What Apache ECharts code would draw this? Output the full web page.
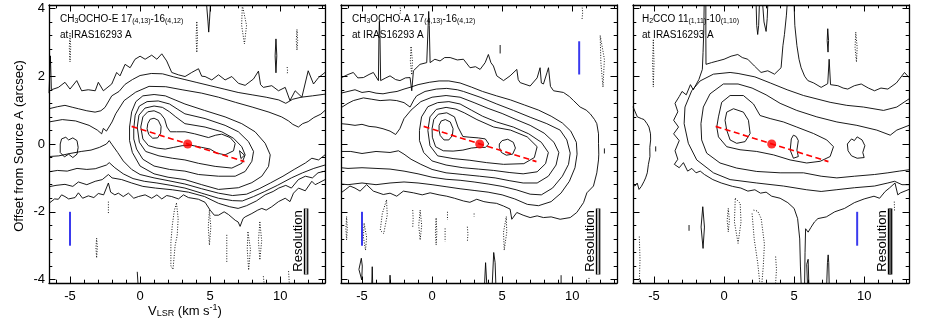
<!DOCTYPE html>
<html><head><meta charset="utf-8">
<script src="https://cdn.jsdelivr.net/npm/echarts@6/dist/echarts.min.js"></script>
<style>html,body{margin:0;padding:0;background:#fff}#c{width:926px;height:322px}</style>
</head><body><div id="c"></div>
<script>
// ---------- axes / ticks ----------
const xRange = [-6.5, 13.2];
const yRange = [-4.1, 4.1];
const xMajor = [-5, 0, 5, 10];
const xMinor = [-6,-4,-3,-2,-1,1,2,3,4,6,7,8,9,11,12,13];
const yMajor = [-4, -2, 0, 2, 4];
const yMinor = [-3.6,-3.2,-2.8,-2.4,-1.6,-1.2,-0.8,-0.4,0.4,0.8,1.2,1.6,2.4,2.8,3.2,3.6];

// ---------- common marks ----------
const redLine = [[-0.6, 0.52], [7.45, -0.52]];
const sysPoint = [[3.4, 0]];
const resBar = [[11.85, -1.9], [11.85, -3.85]];

// ---------- panel 1 : CH3OCHO-E ----------
const p1_L1 = [[-6.5,1.5],[-6.43,1.55],[-6.4,2.6],[-6.33,1.6],[-5.83,1.67],[-5.36,1.82],[-5.0,1.62],[-4.52,1.87],[-4.17,1.57],[-3.7,1.6],[-3.2,1.57],[-2.98,1.82],[-2.62,1.57],[-2.02,1.77],[-1.67,2.11],[-1.43,2.01],[-1.07,2.35],[-0.71,2.25],[-0.36,2.5],[0.0,2.59],[0.36,2.5],[0.83,2.62],[1.2,2.5],[1.55,2.66],[1.9,2.45],[2.26,2.11],[2.74,2.04],[3.21,1.99],[3.69,2.11],[4.17,2.22],[4.4,2.0],[4.64,1.99],[5.12,1.89],[5.6,2.04],[6.07,1.89],[6.55,1.99],[7.02,1.79],[7.5,1.73],[8.1,1.92],[8.45,2.15],[8.6,1.75],[8.8,1.67],[9.4,1.72],[9.88,1.57],[10.36,1.67],[10.7,1.28],[11.07,1.57],[11.55,1.38],[12.0,2.16],[12.38,1.77],[12.74,1.96],[13.2,2.11]];
const p1_L2 = [[-6.5,1.04],[-5.9,1.1],[-5.36,1.14],[-4.8,1.08],[-4.4,1.04],[-3.8,0.98],[-3.21,0.94],[-2.8,0.98],[-2.5,1.08],[-2.02,1.42],[-1.5,1.55],[-1.07,1.76],[-0.55,1.9],[0.0,2.02],[0.8,2.08],[1.6,2.07],[2.4,1.98],[3.2,1.9],[4.0,1.82],[5.0,1.72],[6.0,1.62],[7.0,1.52],[8.0,1.45],[9.0,1.38],[9.9,1.3],[10.4,1.2],[10.9,1.32],[11.5,1.38],[12.3,1.42],[13.2,1.47]];
const p1_L3 = [[-6.5,0.65],[-5.55,0.72],[-4.6,0.68],[-3.64,0.55],[-3.05,0.41],[-2.74,0.3],[-2.62,0.46],[-2.4,0.38],[-2.0,0.65],[-1.74,0.89],[-1.14,1.28],[-0.31,1.53],[0.64,1.7],[1.83,1.69],[3.0,1.6],[4.4,1.5],[5.6,1.38],[6.8,1.23],[8.0,1.09],[9.2,0.94],[10.1,0.8],[10.6,0.68],[10.9,0.58],[11.3,0.5],[11.6,0.6],[12.0,0.66],[12.4,0.78],[12.9,0.88],[13.2,0.99]];
const p1_island = [[-5.7,0.0],[-5.6,0.15],[-5.3,0.2],[-5.1,0.12],[-4.8,0.18],[-4.5,0.1],[-4.42,-0.1],[-4.5,-0.3],[-4.8,-0.4],[-5.1,-0.3],[-5.4,-0.38],[-5.7,-0.25],[-5.7,0.0]];
const p1_c4 = [[-0.75,0.5],[-0.6,0.95],[-0.3,1.25],[0.2,1.42],[1.0,1.46],[1.8,1.42],[2.5,1.3],[3.2,1.18],[4.6,0.99],[6.07,0.8],[7.26,0.6],[8.21,0.36],[8.93,0.02],[9.29,-0.32],[9.17,-0.66],[8.69,-0.95],[7.98,-1.14],[7.02,-1.29],[5.6,-1.34],[4.4,-1.2],[3.2,-1.05],[2.0,-0.98],[1.0,-0.88],[0.0,-0.65],[-0.55,-0.25],[-0.75,0.1],[-0.75,0.5]];
const p1_c5 = [[-0.45,0.45],[-0.35,0.85],[-0.05,1.12],[0.5,1.25],[1.3,1.27],[2.1,1.18],[2.7,1.02],[3.2,0.89],[4.64,0.75],[6.07,0.55],[7.02,0.36],[7.74,0.07],[8.1,-0.22],[7.98,-0.51],[7.5,-0.81],[6.79,-0.95],[5.6,-0.95],[4.17,-0.9],[3.2,-0.8],[2.1,-0.75],[1.0,-0.65],[0.2,-0.45],[-0.25,-0.15],[-0.45,0.15],[-0.45,0.45]];
const p1_c6 = [[-0.2,0.5],[-0.08,0.85],[0.35,1.06],[1.0,1.12],[1.6,1.08],[2.1,0.95],[2.55,0.8],[3.2,0.6],[4.64,0.5],[5.83,0.36],[6.67,0.17],[7.26,-0.08],[7.5,-0.32],[7.26,-0.57],[6.55,-0.71],[5.36,-0.66],[4.17,-0.57],[3.2,-0.47],[2.3,-0.42],[1.35,-0.35],[0.4,-0.22],[-0.05,0.05],[-0.2,0.5]];
const p1_c7 = [[0.05,0.5],[0.2,0.8],[0.55,0.95],[1.0,0.98],[1.45,0.9],[1.75,0.74],[1.92,0.5],[2.15,0.36],[2.6,0.36],[3.21,0.36],[3.9,0.3],[4.88,0.19],[5.4,0.26],[5.83,0.29],[6.43,0.19],[6.79,0.02],[6.67,-0.2],[6.07,-0.32],[5.48,-0.27],[5.0,-0.15],[4.4,-0.1],[3.69,-0.04],[3.0,-0.05],[2.4,-0.1],[1.8,-0.15],[1.2,-0.12],[0.6,-0.05],[0.2,0.15],[0.05,0.5]];
const p1_peak = [[0.55,0.6],[0.72,0.73],[1.0,0.76],[1.3,0.7],[1.5,0.52],[1.47,0.32],[1.25,0.18],[0.9,0.17],[0.62,0.28],[0.5,0.45],[0.55,0.6]];
const p1_tri = [[7.1,-0.2],[7.45,-0.33],[7.2,-0.43],[7.1,-0.2]];
const p1_B3 = [[-6.5,-0.37],[-5.8,-0.35],[-5.0,-0.28],[-4.2,-0.22],[-3.5,-0.18],[-2.9,-0.1],[-2.4,0.0],[-2.2,0.1],[-2.0,-0.02],[-1.6,-0.25],[-1.2,-0.5],[-0.6,-0.75],[0.0,-0.9],[1.0,-1.0],[2.0,-1.08],[3.2,-1.18],[4.4,-1.32],[5.6,-1.45],[6.6,-1.52],[7.6,-1.48],[8.5,-1.32],[9.3,-1.15],[10.2,-0.95],[11.0,-0.75],[11.8,-0.56],[12.26,-0.42],[12.74,-0.47],[13.2,-0.32]];
const p1_B2 = [[-6.5,-0.82],[-5.9,-0.78],[-5.2,-0.8],[-4.5,-0.72],[-3.8,-0.75],[-3.2,-0.73],[-2.4,-0.62],[-2.2,-0.55],[-1.8,-0.7],[-1.2,-0.88],[-0.5,-1.02],[0.3,-1.1],[1.2,-1.15],[2.2,-1.22],[3.2,-1.3],[4.4,-1.45],[5.6,-1.6],[6.6,-1.67],[7.3,-1.68],[8.1,-1.55],[8.9,-1.4],[9.8,-1.22],[10.8,-1.0],[11.6,-0.85],[12.4,-0.72],[13.2,-0.62]];
const p1_B1 = [[-6.5,-1.26],[-6.0,-1.22],[-5.36,-1.19],[-4.8,-1.25],[-4.4,-1.12],[-3.8,-1.2],[-3.2,-1.1],[-2.7,-1.05],[-2.26,-0.9],[-2.0,-1.0],[-1.31,-1.05],[-0.6,-1.15],[0.2,-1.25],[1.1,-1.3],[2.3,-1.35],[3.45,-1.42],[4.6,-1.55],[5.6,-1.75],[6.4,-1.85],[7.0,-1.9],[7.6,-1.82],[8.3,-1.68],[8.93,-1.5],[9.5,-1.4],[9.9,-1.3],[10.4,-1.22],[10.8,-1.3],[11.3,-1.05],[11.8,-0.95],[12.3,-1.0],[12.7,-0.85],[13.2,-0.8]];
const p1_B0 = [[-6.5,-1.75],[-6.43,-1.73],[-6.1,-1.62],[-5.83,-1.63],[-5.6,-1.5],[-5.36,-1.55],[-5.1,-1.62],[-4.64,-1.58],[-4.4,-1.44],[-4.1,-1.6],[-3.69,-1.53],[-3.3,-1.58],[-2.98,-1.46],[-2.6,-1.5],[-2.26,-1.15],[-2.1,-1.42],[-1.8,-1.5],[-1.55,-1.45],[-1.2,-1.55],[-0.83,-1.45],[-0.45,-1.6],[-0.12,-1.55],[0.36,-1.5],[0.83,-1.6],[1.2,-1.5],[1.55,-1.62],[1.9,-1.52],[2.26,-1.55],[2.74,-1.62],[3.1,-1.5],[3.45,-1.58],[4.17,-1.63],[4.64,-1.72],[5.0,-1.95],[5.3,-2.1],[5.6,-2.1],[6.0,-2.0],[6.31,-2.08],[6.79,-2.25],[7.0,-2.3],[7.14,-2.43],[7.35,-2.2],[7.5,-2.15],[7.98,-2.05],[8.4,-1.95],[8.69,-1.9],[9.0,-1.95],[9.4,-1.85],[9.88,-1.7],[10.36,-1.6],[10.7,-1.7],[10.95,-1.45],[11.31,-1.3],[11.79,-1.38],[12.26,-1.1],[12.5,-1.2],[12.74,-1.15],[13.2,-1.05]];
const p1_solidBits = [
  [[4.75,4.1],[4.85,3.6],[4.9,3.3],[4.95,3.6],[5.02,4.1]],
  [[9.7,3.1],[9.76,2.6],[9.7,2.1],[9.64,2.6],[9.7,3.1]],
  [[-0.2,-3.77],[-0.15,-4.1]]
];
const p1_negs = [
  [[-5.0,3.27],[-4.95,2.85],[-5.0,2.42],[-5.05,2.85],[-5.0,3.27]],
  [[4.05,3.6],[4.1,3.15],[4.05,2.7],[4.0,3.15],[4.05,3.6]],
  [[7.3,4.1],[7.6,3.5],[7.45,2.95],[7.25,3.5],[7.3,4.1]],
  [[11.2,3.38],[11.25,3.05],[11.2,2.77],[11.15,3.05],[11.2,3.38]],
  [[10.5,2.27],[10.53,2.15],[10.5,2.06]],
  [[-2.26,-1.7],[-2.26,-2.04]],
  [[-3.1,-2.78],[-3.05,-3.05],[-3.1,-3.36],[-3.15,-3.05],[-3.1,-2.78]],
  [[2.6,-1.75],[2.72,-2.2],[2.65,-2.7],[2.5,-3.0],[2.35,-3.7],[2.2,-3.6],[2.2,-2.9],[2.3,-2.4],[2.45,-1.95],[2.6,-1.75]],
  [[4.95,-1.95],[5.05,-2.45],[4.95,-2.98],[4.87,-2.45],[4.95,-1.95]],
  [[6.19,-2.68],[6.19,-3.5]],
  [[7.7,-2.6],[7.88,-3.1],[7.75,-3.72],[7.65,-3.1],[7.7,-2.6]],
  [[8.55,-2.3],[8.68,-2.85],[8.55,-3.42],[8.45,-2.85],[8.55,-2.3]],
  [[8.8,-3.9],[8.85,-4.1]],
  [[10.6,-3.75],[10.65,-4.1]]
];
const p1_blue = [[[-5, -2], [-5, -3]]];

// ---------- panel 2 : CH3OCHO-A ----------
const p2_L1 = [[-6.5,1.95],[-6.45,1.92],[-6.0,2.05],[-5.62,2.11],[-5.3,1.95],[-4.9,1.96],[-4.5,2.05],[-4.19,2.11],[-3.83,1.87],[-3.79,3.2],[-3.76,3.62],[-3.72,3.2],[-3.67,1.87],[-3.3,1.95],[-3.0,2.01],[-2.6,1.9],[-2.29,1.87],[-1.9,1.95],[-1.57,1.96],[-1.45,1.57],[-1.33,2.16],[-0.86,2.35],[-0.38,2.4],[-0.28,3.5],[-0.24,3.91],[-0.2,3.5],[-0.14,2.4],[0.2,2.5],[0.57,2.45],[0.9,2.55],[1.29,2.55],[1.8,2.48],[2.24,2.5],[2.71,2.25],[3.1,2.28],[3.43,2.2],[3.79,2.4],[4.02,2.64],[4.2,2.4],[4.38,2.3],[4.62,2.01],[5.1,1.87],[5.57,2.01],[6.05,2.2],[6.15,1.9],[6.29,1.81],[7.0,1.71],[7.5,1.95],[7.71,2.25],[7.8,1.8],[7.95,1.77],[8.2,2.1],[8.31,2.25],[8.45,1.7],[8.67,1.57],[9.38,1.52],[9.8,1.4],[10.1,1.28],[10.57,1.09],[11.0,1.0],[11.29,0.89],[11.6,0.72],[11.76,0.6],[11.88,0.3],[11.88,0.02],[11.9,-0.3],[11.88,-0.47],[11.76,-0.85],[11.52,-1.24],[11.05,-1.44],[10.81,-1.73],[10.33,-2.02],[9.86,-2.17],[9.14,-2.22],[8.5,-2.15],[7.95,-2.17],[7.5,-2.12],[7.0,-2.17],[6.5,-2.1],[6.05,-2.02],[5.69,-2.22],[5.57,-1.92],[5.1,-1.83],[4.6,-1.75],[4.14,-1.73],[3.7,-1.7],[3.19,-1.63],[2.7,-1.72],[2.24,-1.68],[1.6,-1.6],[1.05,-1.54],[0.5,-1.5],[-0.14,-1.44],[-0.7,-1.5],[-1.33,-1.44],[-2.05,-1.39],[-2.52,-1.54],[-3.0,-1.45],[-3.48,-1.49],[-4.19,-1.39],[-4.67,-1.2],[-5.14,-1.39],[-5.5,-1.3],[-5.86,-1.24],[-6.2,-1.35],[-6.5,-1.44]];
const p2_L2 = [[-6.5,1.5],[-6.0,1.55],[-5.5,1.6],[-5.0,1.52],[-4.5,1.55],[-4.0,1.5],[-3.5,1.48],[-3.0,1.52],[-2.5,1.55],[-2.0,1.62],[-1.5,1.68],[-1.0,1.75],[-0.2,1.82],[0.5,1.86],[1.2,1.86],[2.0,1.8],[2.8,1.68],[3.6,1.55],[4.6,1.42],[5.6,1.3],[6.6,1.15],[7.6,1.0],[8.5,0.82],[9.3,0.62],[9.9,0.38],[10.3,0.05],[10.35,-0.3],[10.2,-0.7],[9.8,-1.1],[9.2,-1.45],[8.5,-1.7],[7.6,-1.82],[6.8,-1.78],[5.9,-1.62],[5.0,-1.5],[4.0,-1.42],[3.0,-1.37],[2.0,-1.32],[1.0,-1.26],[0.0,-1.2],[-1.0,-1.15],[-2.0,-1.12],[-3.0,-1.15],[-4.0,-1.2],[-5.0,-1.15],[-6.0,-1.2],[-6.5,-1.18]];
const p2_L3 = [[-6.5,1.07],[-6.0,1.2],[-5.62,1.28],[-4.9,1.36],[-4.3,1.32],[-3.71,1.28],[-3.0,1.3],[-2.52,1.28],[-2.0,1.22],[-1.57,1.09],[-1.3,1.3],[-1.1,1.42],[-0.5,1.55],[0.3,1.62],[1.05,1.64],[1.8,1.6],[2.24,1.55],[3.43,1.38],[4.62,1.18],[5.81,0.99],[7.0,0.79],[8.19,0.6],[9.14,0.41],[9.62,0.12],[9.86,-0.27],[9.74,-0.6],[9.3,-0.95],[8.6,-1.3],[7.8,-1.5],[7.0,-1.48],[6.0,-1.35],[5.0,-1.25],[4.0,-1.18],[3.0,-1.12],[2.0,-1.07],[1.0,-1.04],[0.0,-0.98],[-1.0,-0.88],[-2.0,-0.8],[-3.0,-0.74],[-4.0,-0.72],[-5.0,-0.7],[-6.0,-0.72],[-6.5,-0.7]];
const p2_L4 = [[-6.5,0.6],[-6.0,0.58],[-5.5,0.55],[-5.0,0.58],[-4.5,0.52],[-4.0,0.5],[-3.5,0.45],[-3.0,0.38],[-2.6,0.28],[-2.3,0.45],[-2.0,0.75],[-1.5,1.0],[-0.8,1.25],[0.0,1.38],[1.0,1.43],[2.0,1.38],[3.0,1.22],[4.0,1.05],[5.0,0.9],[6.0,0.72],[7.0,0.55],[8.0,0.32],[8.7,0.05],[9.05,-0.25],[8.85,-0.62],[8.3,-0.95],[7.5,-1.15],[6.5,-1.15],[5.5,-1.08],[4.5,-1.0],[3.4,-0.95],[2.2,-0.9],[1.0,-0.85],[0.0,-0.75],[-0.8,-0.6],[-1.5,-0.45],[-2.0,-0.3],[-2.4,-0.2],[-3.0,-0.25],[-4.0,-0.22],[-5.0,-0.28],[-5.8,-0.22],[-6.5,-0.22]];
const p2_c5 = [[-0.9,0.4],[-0.75,0.8],[-0.3,1.1],[0.4,1.22],[1.2,1.25],[2.0,1.18],[2.8,1.0],[3.6,0.82],[4.6,0.65],[5.8,0.5],[6.9,0.3],[7.8,0.05],[8.3,-0.25],[8.1,-0.58],[7.5,-0.82],[6.5,-0.88],[5.5,-0.84],[4.4,-0.78],[3.3,-0.74],[2.2,-0.7],[1.0,-0.62],[0.0,-0.5],[-0.6,-0.25],[-0.9,0.1],[-0.9,0.4]];
const p2_c6 = [[-0.3,0.4],[-0.15,0.8],[0.3,1.02],[1.0,1.08],[1.7,1.03],[2.3,0.92],[3.2,0.72],[4.4,0.5],[5.6,0.41],[6.79,0.21],[7.5,-0.08],[7.3,-0.4],[6.55,-0.58],[5.1,-0.6],[3.9,-0.55],[2.7,-0.48],[1.5,-0.43],[0.4,-0.35],[-0.15,-0.05],[-0.3,0.4]];
const p2_c7 = [[0.0,0.45],[0.12,0.72],[0.45,0.88],[1.05,0.92],[1.6,0.8],[1.85,0.5],[2.2,0.22],[2.7,0.2],[3.3,0.18],[3.8,0.15],[4.05,0.0],[3.8,-0.1],[3.3,-0.1],[2.8,-0.12],[2.2,-0.18],[1.5,-0.21],[0.8,-0.2],[0.25,-0.08],[0.02,0.2],[0.0,0.45]];
const p2_peak = [[0.5,0.55],[0.65,0.68],[0.95,0.72],[1.3,0.65],[1.5,0.45],[1.45,0.25],[1.2,0.12],[0.85,0.12],[0.58,0.25],[0.5,0.4],[0.5,0.55]];
const p2_peak2 = [[4.8,0.0],[5.0,0.1],[5.4,0.14],[5.8,0.05],[5.95,-0.12],[5.75,-0.3],[5.3,-0.33],[4.95,-0.25],[4.8,-0.1],[4.8,0.0]];
const p2_solidBits = [
  [[4.86,2.92],[4.86,2.67]],
  [[12.3,-0.13],[12.3,-0.28]],
  [[-5.05,-3.37],[-4.98,-3.6],[-5.02,-4.01],[-5.22,-3.7],[-5.05,-3.37]],
  [[-4.3,-4.1],[-4.27,-3.62],[-4.24,-4.1]],
  [[-3.02,-4.1],[-3.0,-3.87],[-2.97,-4.1]],
  [[3.75,-4.1],[3.82,-3.5],[3.9,-4.1]],
  [[4.3,-4.1],[4.4,-3.2],[4.5,-3.5],[4.55,-4.1]],
  [[9.21,-4.1],[9.21,-3.87]]
];
const p2_negs = [
  [[-2.3,4.1],[-2.25,3.95],[-2.3,3.8]],
  [[-1.5,2.86],[-1.4,2.45],[-1.45,2.04],[-1.55,2.45],[-1.5,2.86]],
  [[10.7,4.1],[10.75,3.88],[10.7,3.66]],
  [[12.0,3.2],[12.3,2.5],[12.2,1.68],[12.05,2.4],[12.0,3.2]],
  [[-6.1,-2.14],[-6.05,-2.5],[-6.1,-2.83],[-6.15,-2.5],[-6.1,-2.14]],
  [[-4.85,-2.34],[-4.67,-2.75],[-4.75,-3.13],[-4.9,-2.75],[-4.85,-2.34]],
  [[-3.25,-1.65],[-3.2,-2.1],[-3.45,-2.64],[-3.7,-2.55],[-3.55,-2.05],[-3.25,-1.65]],
  [[-1.38,-1.95],[-1.35,-2.2],[-1.38,-2.45]],
  [[-0.85,-1.95],[-0.74,-2.4],[-0.85,-2.83],[-0.95,-2.4],[-0.85,-1.95]],
  [[0.29,-2.19],[0.34,-2.6],[0.29,-2.98],[0.24,-2.6],[0.29,-2.19]],
  [[0.93,-2.49],[0.93,-2.88]],
  [[1.1,-2.0],[1.1,-2.24]],
  [[2.52,-2.44],[2.56,-2.66],[2.52,-2.88]],
  [[3.0,-2.05],[3.0,-2.14]],
  [[5.3,-2.14],[5.33,-2.6],[5.15,-3.13],[5.1,-2.6],[5.3,-2.14]],
  [[11.2,-3.95],[11.2,-4.1]]
];
const p2_blue = [[[-5, -2], [-5, -3]], [[10.5, 2.05], [10.5, 3.03]]];

// ---------- panel 3 : H2CCO ----------
const p3_L1a = [[-1.42,4.1],[-1.45,3.3],[-1.5,2.7],[-1.55,2.2],[-1.8,1.9],[-2.2,1.6],[-2.4,1.75],[-2.7,1.45],[-3.0,1.55],[-3.2,1.4],[-3.5,1.2],[-3.3,0.95],[-3.6,0.7],[-3.25,0.5],[-3.6,0.3],[-3.2,0.1],[-3.5,-0.2],[-3.3,-0.45],[-3.55,-0.6],[-3.2,-0.7],[-2.9,-0.55],[-2.6,-0.8],[-2.3,-0.72],[-2.0,-0.85],[-1.7,-0.8],[-1.4,-0.9],[-0.8,-1.05],[-0.2,-1.15],[0.6,-1.25],[1.2,-1.3],[1.7,-1.39],[2.2,-1.35],[2.6,-1.45],[3.0,-1.42],[3.4,-1.54],[4.0,-1.6],[4.55,-1.73],[5.0,-1.9],[5.25,-2.2],[5.4,-2.8],[5.45,-3.6],[5.5,-4.1]];
const p3_L1r = [[5.75,-4.1],[5.78,-3.2],[5.82,-2.5],[6.0,-2.6],[6.2,-2.46],[6.45,-2.3],[6.7,-2.2],[7.3,-2.15],[7.9,-2.0],[8.6,-1.9],[9.3,-1.73],[10.0,-1.62],[10.7,-1.54],[11.1,-1.6],[11.5,-1.4],[11.8,-1.3],[12.2,-1.15],[12.4,-1.5],[12.6,-1.44],[13.2,-1.34]];
const p3_L1b = [[-1.3,4.1],[-1.3,3.2],[-1.29,2.35],[-0.9,2.4],[-0.45,2.45],[0.0,2.5],[0.5,2.59],[0.98,2.64],[1.3,2.55],[1.69,2.5],[2.17,2.3],[2.64,2.11],[3.12,2.16],[3.6,2.06],[4.07,2.25],[4.2,2.9],[4.31,3.23],[4.45,3.8],[4.5,4.1]];
const p3_L1c = [[5.0,4.1],[5.05,3.5],[5.2,2.9],[5.35,2.5],[5.5,2.25],[5.75,2.0],[5.98,1.87],[6.4,1.8],[6.93,1.67],[7.4,1.78],[7.5,2.5],[7.6,1.75],[8.12,1.72],[8.5,1.65],[8.83,1.62],[9.3,1.72],[9.79,1.77],[10.3,1.65],[10.74,1.57],[11.2,1.65],[11.69,1.62],[12.3,1.8],[12.88,2.11],[13.2,1.96]];
const p3_L2 = [[13.2,1.33],[12.33,1.09],[11.38,0.99],[9.95,1.09],[8.76,1.14],[7.57,1.23],[5.67,1.43],[4.5,1.6],[3.3,1.8],[2.2,1.98],[1.0,2.08],[0.43,2.11],[-0.76,2.06],[-1.71,1.86],[-2.31,1.57],[-2.79,1.09],[-2.85,0.6],[-2.55,0.02],[-1.95,-0.47],[-0.76,-0.85],[0.43,-1.05],[2.33,-1.15],[4.24,-1.24],[5.9,-1.35],[6.93,-1.4],[8.0,-1.35],[9.31,-1.29],[10.74,-1.24],[11.69,-1.15],[12.17,-1.1],[12.7,-1.2],[13.2,-1.2]];
const p3_L3 = [[13.2,0.55],[12.33,0.41],[11.86,0.26],[10.9,0.41],[9.48,0.55],[8.05,0.65],[6.62,0.8],[5.19,0.99],[4.0,1.2],[3.0,1.45],[2.0,1.65],[1.0,1.77],[-0.05,1.77],[-1.0,1.48],[-1.48,1.09],[-1.65,0.6],[-1.6,0.12],[-1.24,-0.27],[-0.29,-0.56],[0.9,-0.71],[2.33,-0.81],[4.0,-0.85],[5.67,-0.85],[6.93,-0.95],[8.05,-1.0],[9.31,-0.95],[10.74,-0.9],[11.69,-0.85],[12.5,-0.8],[13.2,-0.76]];
const p3_c4 = [[-0.52,0.5],[-0.4,0.8],[-0.17,1.23],[0.43,1.43],[1.38,1.43],[2.1,1.18],[2.57,0.84],[3.29,0.75],[4.24,0.65],[5.19,0.5],[6.38,0.31],[7.33,0.12],[7.81,-0.08],[7.57,-0.37],[6.86,-0.51],[5.9,-0.56],[4.71,-0.47],[3.52,-0.32],[2.33,-0.22],[1.14,-0.17],[0.19,-0.08],[-0.4,0.21],[-0.52,0.5]];
const p3_peak = [[0.07,0.7],[0.19,0.94],[0.67,1.04],[1.38,0.94],[1.74,0.7],[1.86,0.31],[1.5,0.07],[0.9,0.02],[0.43,0.12],[0.19,0.41],[0.07,0.7]];
const p3_isl1 = [[4.8,0.15],[4.95,0.26],[5.15,0.22],[5.3,0.1],[5.2,-0.18],[5.3,-0.37],[4.95,-0.42],[4.72,-0.18],[4.8,0.15]];
const p3_isl2 = [[8.8,0.0],[9.1,0.15],[9.3,0.1],[9.5,0.21],[9.85,0.12],[10.05,-0.05],[9.9,-0.25],[10.0,-0.4],[9.5,-0.42],[9.1,-0.35],[8.85,-0.2],[8.8,0.0]];
const p3_left = [[-6.5,1.1],[-6.43,1.09],[-6.19,0.8],[-5.9,0.75],[-5.71,0.72],[-5.5,0.6],[-5.36,0.5],[-5.25,0.3],[-5.24,0.12],[-5.3,-0.1],[-5.29,-0.37],[-5.4,-0.6],[-5.48,-0.85],[-5.6,-1.0],[-5.71,-1.1],[-5.9,-1.25],[-6.07,-1.34],[-6.2,-1.15],[-6.36,-1.24],[-6.5,-1.2]];
const p3_solidBits = [
  [[2.29,4.1],[2.33,3.5],[2.4,3.23],[2.47,3.5],[2.52,4.1]],
  [[2.76,4.1],[2.85,3.6],[3.0,3.32],[3.08,3.7],[3.12,4.1]],
  [[7.4,3.4],[7.46,3.05],[7.42,2.71],[7.36,3.05],[7.4,3.4]],
  [[-4.88,-0.07],[-4.88,-0.22]],
  [[-1.52,-1.85],[-1.4,-2.45],[-1.5,-3.08],[-1.64,-2.45],[-1.52,-1.85]],
  [[-2.5,-2.39],[-2.5,-2.56]],
  [[7.33,-4.1],[7.38,-3.5],[7.43,-3.27],[7.47,-3.5],[7.5,-4.1]],
  [[5.95,-4.1],[5.9,-3.55],[6.0,-3.4],[6.05,-4.1]]
];
const p3_negs = [
  [[-5.05,3.07],[-5.0,2.4],[-5.05,1.68],[-5.1,2.4],[-5.05,3.07]],
  [[9.4,3.3],[9.5,2.85],[9.45,2.42],[9.35,2.85],[9.4,3.3]],
  [[-6.05,-2.73],[-6.0,-3.4],[-6.05,-4.1]],
  [[0.3,-1.9],[0.38,-2.25],[0.3,-2.59],[0.22,-2.25],[0.3,-1.9]],
  [[0.8,-1.6],[1.15,-1.75],[1.21,-2.3],[1.0,-2.93],[0.74,-2.3],[0.8,-1.6]],
  [[2.1,-1.95],[2.4,-1.98],[2.65,-2.2],[2.88,-2.95],[2.8,-3.6],[2.7,-4.1]],
  [[2.0,-2.05],[2.15,-2.8],[2.4,-3.5],[2.55,-4.1]],
  [[3.68,-3.32],[3.74,-3.7],[3.68,-4.1]],
  [[12.15,-1.7],[12.17,-2.0]]
];
const p3_blue = [[[9.5, -2], [9.5, -3]]];

// ---------- assemble ----------
const FONT = '"Liberation Sans", Arial, Helvetica, sans-serif';
const gridLefts = [49, 341, 633];
const panels = [
  { solid: [p1_L1, p1_L2, p1_L3, p1_island, p1_c4, p1_c5, p1_c6, p1_c7, p1_peak, p1_tri, p1_B3, p1_B2, p1_B1, p1_B0].concat(p1_solidBits), negs: p1_negs, blue: p1_blue, barFill: '#b0b0b0' },
  { solid: [p2_L1, p2_L2, p2_L3, p2_L4, p2_c5, p2_c6, p2_c7, p2_peak, p2_peak2].concat(p2_solidBits), negs: p2_negs, blue: p2_blue, barFill: '#b0b0b0' },
  { solid: [p3_L1a, p3_L1r, p3_L1b, p3_L1c, p3_L2, p3_L3, p3_c4, p3_peak, p3_isl1, p3_isl2, p3_left].concat(p3_solidBits), negs: p3_negs, blue: p3_blue, barFill: '#606060' }
];

const grids = [], xAxes = [], yAxes = [], series = [];
gridLefts.forEach((left, g) => {
  grids.push({ left: left, top: 5, width: 276, height: 278, containLabel: false });
  const axLine = { show: true, onZero: false, lineStyle: { color: '#000', width: 1.3 } };
  const noLine = { show: false, onZero: false };
  const tick = (vals, len) => ({ show: true, inside: true, length: len, customValues: vals, lineStyle: { color: '#000', width: 1 } });
  const baseX = { type: 'value', gridIndex: g, min: xRange[0], max: xRange[1], splitLine: { show: false } };
  const baseY = { type: 'value', gridIndex: g, min: yRange[0], max: yRange[1], splitLine: { show: false } };
  xAxes.push(Object.assign({}, baseX, { position: 'bottom', axisLine: axLine, axisTick: tick(xMajor, 6.5),
    axisLabel: { show: true, customValues: xMajor, fontSize: 13, fontFamily: FONT, color: '#000', margin: 7 } }));
  xAxes.push(Object.assign({}, baseX, { position: 'bottom', axisLine: noLine, axisTick: tick(xMinor, 3.3), axisLabel: { show: false } }));
  xAxes.push(Object.assign({}, baseX, { position: 'top', axisLine: axLine, axisTick: tick(xMajor, 6.5), axisLabel: { show: false } }));
  xAxes.push(Object.assign({}, baseX, { position: 'top', axisLine: noLine, axisTick: tick(xMinor, 3.3), axisLabel: { show: false } }));
  yAxes.push(Object.assign({}, baseY, { position: 'left', axisLine: axLine, axisTick: tick(yMajor, 6.5),
    axisLabel: { show: g === 0, customValues: yMajor, fontSize: 13, fontFamily: FONT, color: '#000', margin: 4 } }));
  yAxes.push(Object.assign({}, baseY, { position: 'left', axisLine: noLine, axisTick: tick(yMinor, 3.3), axisLabel: { show: false } }));
  yAxes.push(Object.assign({}, baseY, { position: 'right', axisLine: axLine, axisTick: tick(yMajor, 6.5), axisLabel: { show: false } }));
  yAxes.push(Object.assign({}, baseY, { position: 'right', axisLine: noLine, axisTick: tick(yMinor, 3.3), axisLabel: { show: false } }));

  const base = { type: 'line', xAxisIndex: 4 * g, yAxisIndex: 4 * g, symbol: 'none', showSymbol: false,
    silent: true, animation: false, clip: true, emphasis: { disabled: true } };
  const p = panels[g];
  p.solid.forEach(d => series.push(Object.assign({}, base, { data: d, z: 3, lineStyle: { color: '#000', width: 0.9 } })));
  p.negs.forEach(d => series.push(Object.assign({}, base, { data: d, z: 3, lineStyle: { color: '#000', width: 0.9, type: [1, 1.6] } })));
  p.blue.forEach(d => series.push(Object.assign({}, base, { data: d, z: 4, lineStyle: { color: '#3a3aee', width: 2 } })));
  series.push(Object.assign({}, base, { data: resBar, z: 4, lineStyle: { color: '#000', width: 4.5, cap: 'butt' } }));
  series.push(Object.assign({}, base, { data: resBar, z: 5, lineStyle: { color: p.barFill, width: 2.2, cap: 'butt' } }));
  series.push(Object.assign({}, base, { data: redLine, z: 6, lineStyle: { color: '#ff0000', width: 1.6, type: [6, 3.5] } }));
  series.push({ type: 'scatter', xAxisIndex: 4 * g, yAxisIndex: 4 * g, data: sysPoint, symbol: 'circle', symbolSize: 9,
    itemStyle: { color: '#ff0000' }, silent: true, animation: false, z: 7 });
});

const rich = {
  n: { fontSize: 10, fontFamily: FONT, fill: '#000', lineHeight: 12, verticalAlign: 'bottom' },
  s: { fontSize: 7, fontFamily: FONT, fill: '#000', lineHeight: 6, verticalAlign: 'bottom' }
};
const titles = [
  '{n|CH}{s|3}{n|OCHO-E 17}{s|(4,13)}{n|-16}{s|(4,12)}',
  '{n|CH}{s|3}{n|OCHO-A 17}{s|(4,13)}{n|-16}{s|(4,12)}',
  '{n|H}{s|2}{n|CCO 11}{s|(1,11)}{n|-10}{s|(1,10)}'
];
const graphic = [];
gridLefts.forEach((left, g) => {
  graphic.push({ type: 'text', x: left + 11 - (g === 2 ? 2 : 0), y: 12.7, silent: true,
    style: { text: titles[g], rich: rich, align: 'left', verticalAlign: 'top' } });
  graphic.push({ type: 'text', x: left + 11 - (g === 2 ? 2 : 0), y: 35.4, silent: true,
    style: { text: 'at IRAS16293 A', fontSize: 10, fontFamily: FONT, fill: '#000', align: 'left', verticalAlign: 'middle' } });
  graphic.push({ type: 'text', x: left + 249, y: 241, rotation: Math.PI / 2, silent: true,
    style: { text: 'Resolution', fontSize: 13, fontFamily: FONT, fill: '#000', align: 'center', verticalAlign: 'middle' } });
});
graphic.push({ type: 'text', x: 19.5, y: 146, rotation: Math.PI / 2, silent: true,
  style: { text: 'Offset from Source A (arcsec)', fontSize: 13, fontFamily: FONT, fill: '#000', align: 'center', verticalAlign: 'middle' } });
graphic.push({ type: 'text', x: 185, y: 303, silent: true,
  style: { text: '{n|V}{s|LSR}{n| (km s}{p|-1}{n|)}', align: 'center', verticalAlign: 'top',
    rich: {
      n: { fontSize: 13, fontFamily: FONT, fill: '#000', lineHeight: 15, verticalAlign: 'bottom' },
      s: { fontSize: 9, fontFamily: FONT, fill: '#000', lineHeight: 7, verticalAlign: 'bottom' },
      p: { fontSize: 9, fontFamily: FONT, fill: '#000', lineHeight: 9, verticalAlign: 'top' }
    } } });

const chart = echarts.init(document.getElementById('c'), null, { renderer: 'canvas' });
chart.setOption({
  backgroundColor: '#fff',
  animation: false,
  grid: grids, xAxis: xAxes, yAxis: yAxes, series: series, graphic: graphic
});
</script></body></html>
